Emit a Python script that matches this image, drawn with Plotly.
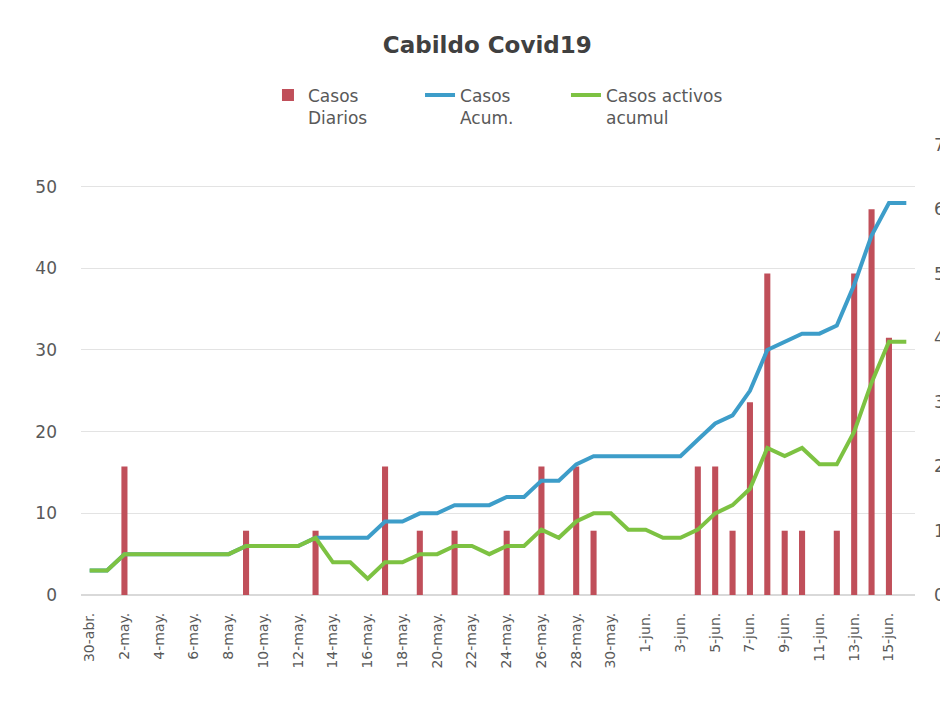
import plotly.graph_objects as go

dates = [
    "30-abr.", "1-may.", "2-may.", "3-may.", "4-may.", "5-may.", "6-may.", "7-may.",
    "8-may.", "9-may.", "10-may.", "11-may.", "12-may.", "13-may.", "14-may.", "15-may.",
    "16-may.", "17-may.", "18-may.", "19-may.", "20-may.", "21-may.", "22-may.", "23-may.",
    "24-may.", "25-may.", "26-may.", "27-may.", "28-may.", "29-may.", "30-may.", "31-may.",
    "1-jun.", "2-jun.", "3-jun.", "4-jun.", "5-jun.", "6-jun.", "7-jun.", "8-jun.",
    "9-jun.", "10-jun.", "11-jun.", "12-jun.", "13-jun.", "14-jun.", "15-jun.", "16-jun.",
]

casos_diarios = [
    0, 0, 2, 0, 0, 0, 0, 0,
    0, 1, 0, 0, 0, 1, 0, 0,
    0, 2, 0, 1, 0, 1, 0, 0,
    1, 0, 2, 0, 2, 1, 0, 0,
    0, 0, 0, 2, 2, 1, 3, 5,
    1, 1, 0, 1, 5, 6, 4, 0,
]

casos_acum = [
    3, 3, 5, 5, 5, 5, 5, 5,
    5, 6, 6, 6, 6, 7, 7, 7,
    7, 9, 9, 10, 10, 11, 11, 11,
    12, 12, 14, 14, 16, 17, 17, 17,
    17, 17, 17, 19, 21, 22, 25, 30,
    31, 32, 32, 33, 38, 44, 48, 48,
]

casos_activos = [
    3, 3, 5, 5, 5, 5, 5, 5,
    5, 6, 6, 6, 6, 7, 4, 4,
    2, 4, 4, 5, 5, 6, 6, 5,
    6, 6, 8, 7, 9, 10, 10, 8,
    8, 7, 7, 8, 10, 11, 13, 18,
    17, 18, 16, 16, 20, 26, 31, 31,
]

tick_labels = dates[::2]
left_ticks = [0, 10, 20, 30, 40, 50]
right_ticks = [0, 1, 2, 3, 4, 5, 6, 7]

FONT = "DejaVu Sans"
GRAY = "#595959"

fig = go.Figure()
fig.add_trace(go.Bar(
    x=dates, y=casos_diarios, name="Casos<br>Diarios",
    marker=dict(color="#C04F5A", line=dict(width=0)),
    yaxis="y", legend="legend", showlegend=True,
))
fig.add_trace(go.Scatter(
    x=dates, y=casos_acum, name="Casos<br>Acum.", mode="lines",
    line=dict(color="#3D9DC9", width=4), yaxis="y2", legend="legend2", showlegend=True,
))
fig.add_trace(go.Scatter(
    x=dates, y=casos_activos, name="Casos activos<br>acumul", mode="lines",
    line=dict(color="#7DC242", width=4), yaxis="y2", legend="legend3", showlegend=True,
))

leg_common = dict(orientation="h", xanchor="left", y=1.15, yanchor="top",
                  font=dict(size=17, color=GRAY), valign="top",
                  bgcolor="rgba(0,0,0,0)")

fig.update_layout(
    width=948, height=715,
    showlegend=True,
    margin=dict(l=73, r=41, t=137, b=128),
    paper_bgcolor="white", plot_bgcolor="white",
    font=dict(family=FONT, color=GRAY),
    bargap=0.65,
    title=dict(text="<b>Cabildo Covid19</b>", x=0.5056, xref="container", xanchor="center",
               y=0.948, yref="container", yanchor="middle",
               font=dict(size=23, color="#404040", family=FONT)),
    legend=dict(x=0.2242, **leg_common),
    legend2=dict(x=0.4065, **leg_common),
    legend3=dict(x=0.5815, **leg_common),
    xaxis=dict(type="category", tickmode="array", tickvals=tick_labels, ticktext=tick_labels,
               tickangle=-90, tickfont=dict(size=14, color=GRAY), showgrid=False,
               showline=False, ticks="", ticklabelstandoff=14, range=[-0.5, 47.5],
               automargin=False),
    yaxis=dict(side="right", range=[0, 7], tickvals=right_ticks, showgrid=False,
               zeroline=False, showline=False, ticks="", tickfont=dict(size=17, color=GRAY),
               ticklabelstandoff=18, automargin=False),
    yaxis2=dict(side="left", overlaying="y", range=[0, 55.1], tickvals=left_ticks,
                showgrid=True, gridcolor="#E3E3E3", gridwidth=1, zeroline=True,
                zerolinecolor="#D9D9D9", showline=False, ticks="",
                tickfont=dict(size=17, color=GRAY), ticklabelstandoff=23, automargin=False),
)

fig.write_html("out.html")
